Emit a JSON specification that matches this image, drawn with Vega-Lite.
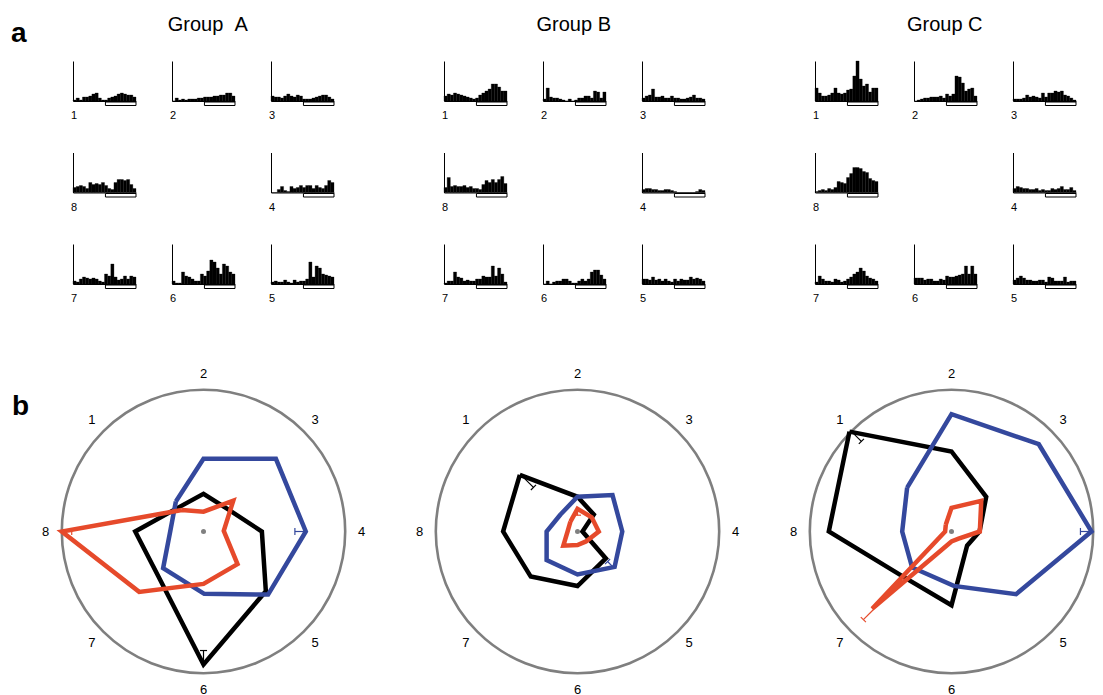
{
"$schema": "https://vega.github.io/schema/vega-lite/v6.json",
"padding": {"left": 11, "top": 14, "right": 0, "bottom": 0},
"spacing": 63,
"config": {"view": {"stroke": null}, "axis": {"grid": false}, "font": "Liberation Sans", "title": {"font": "Liberation Sans", "color": "#000"}, "text": {"font": "Liberation Sans"}},
"datasets": {
"grid": [{"p":1,"r":1,"c":1},{"p":2,"r":1,"c":2},{"p":3,"r":1,"c":3},{"p":8,"r":2,"c":1},{"p":4,"r":2,"c":3},{"p":7,"r":3,"c":1},{"p":6,"r":3,"c":2},{"p":5,"r":3,"c":3}],
"origin": [{"x":0,"y":0}],
"dirs": [{"d":1},{"d":2},{"d":3},{"d":4},{"d":5},{"d":6},{"d":7},{"d":8}],
"poly": [
{"panel":"L","s":"black","i":0,"x":-0.172,"y":0.172},{"panel":"L","s":"black","i":1,"x":0,"y":0.266},{"panel":"L","s":"black","i":2,"x":0.163,"y":0.163},{"panel":"L","s":"black","i":3,"x":0.412,"y":0},{"panel":"L","s":"black","i":4,"x":0.44,"y":-0.421},{"panel":"L","s":"black","i":5,"x":0,"y":-0.939},{"panel":"L","s":"black","i":6,"x":-0.318,"y":-0.318},{"panel":"L","s":"black","i":7,"x":-0.482,"y":0},{"panel":"L","s":"black","i":8,"x":-0.172,"y":0.172},
{"panel":"L","s":"blue","i":0,"x":-0.195,"y":0.212},{"panel":"L","s":"blue","i":1,"x":0,"y":0.513},{"panel":"L","s":"blue","i":2,"x":0.511,"y":0.513},{"panel":"L","s":"blue","i":3,"x":0.722,"y":0},{"panel":"L","s":"blue","i":4,"x":0.456,"y":-0.445},{"panel":"L","s":"blue","i":5,"x":0.005,"y":-0.44},{"panel":"L","s":"blue","i":6,"x":-0.285,"y":-0.259},{"panel":"L","s":"blue","i":7,"x":-0.235,"y":0},{"panel":"L","s":"blue","i":8,"x":-0.195,"y":0.212},
{"panel":"L","s":"red","i":0,"x":-0.152,"y":0.152},{"panel":"L","s":"red","i":1,"x":0,"y":0.14},{"panel":"L","s":"red","i":2,"x":0.21,"y":0.217},{"panel":"L","s":"red","i":3,"x":0.143,"y":0.005},{"panel":"L","s":"red","i":4,"x":0.24,"y":-0.23},{"panel":"L","s":"red","i":5,"x":0,"y":-0.37},{"panel":"L","s":"red","i":6,"x":-0.454,"y":-0.426},{"panel":"L","s":"red","i":7,"x":-1.0,"y":0},{"panel":"L","s":"red","i":8,"x":-0.152,"y":0.152},
{"panel":"M","s":"black","i":0,"x":-0.407,"y":0.4},{"panel":"M","s":"black","i":1,"x":0,"y":0.245},{"panel":"M","s":"black","i":2,"x":0.115,"y":0.12},{"panel":"M","s":"black","i":3,"x":0.035,"y":0},{"panel":"M","s":"black","i":4,"x":0.2,"y":-0.19},{"panel":"M","s":"black","i":5,"x":0,"y":-0.385},{"panel":"M","s":"black","i":6,"x":-0.33,"y":-0.318},{"panel":"M","s":"black","i":7,"x":-0.525,"y":0},{"panel":"M","s":"black","i":8,"x":-0.407,"y":0.4},
{"panel":"M","s":"blue","i":0,"x":-0.12,"y":0.12},{"panel":"M","s":"blue","i":1,"x":0,"y":0.245},{"panel":"M","s":"blue","i":2,"x":0.247,"y":0.257},{"panel":"M","s":"blue","i":3,"x":0.316,"y":0},{"panel":"M","s":"blue","i":4,"x":0.262,"y":-0.25},{"panel":"M","s":"blue","i":5,"x":0,"y":-0.303},{"panel":"M","s":"blue","i":6,"x":-0.218,"y":-0.202},{"panel":"M","s":"blue","i":7,"x":-0.218,"y":0},{"panel":"M","s":"blue","i":8,"x":-0.12,"y":0.12},
{"panel":"M","s":"red","i":0,"x":-0.05,"y":0.07},{"panel":"M","s":"red","i":1,"x":0,"y":0.16},{"panel":"M","s":"red","i":2,"x":0.1,"y":0.1},{"panel":"M","s":"red","i":3,"x":0.15,"y":0},{"panel":"M","s":"red","i":4,"x":0.06,"y":-0.07},{"panel":"M","s":"red","i":5,"x":0,"y":-0.095},{"panel":"M","s":"red","i":6,"x":-0.1,"y":-0.1},{"panel":"M","s":"red","i":7,"x":-0.07,"y":0},{"panel":"M","s":"red","i":8,"x":-0.05,"y":0.07},
{"panel":"R","s":"black","i":0,"x":-0.72,"y":0.705},{"panel":"R","s":"black","i":1,"x":0,"y":0.565},{"panel":"R","s":"black","i":2,"x":0.245,"y":0.245},{"panel":"R","s":"black","i":3,"x":0.198,"y":0},{"panel":"R","s":"black","i":4,"x":0.11,"y":-0.1},{"panel":"R","s":"black","i":5,"x":0,"y":-0.52},{"panel":"R","s":"black","i":6,"x":-0.327,"y":-0.327},{"panel":"R","s":"black","i":7,"x":-0.866,"y":0},{"panel":"R","s":"black","i":8,"x":-0.72,"y":0.705},
{"panel":"R","s":"blue","i":0,"x":-0.313,"y":0.31},{"panel":"R","s":"blue","i":1,"x":0,"y":0.828},{"panel":"R","s":"blue","i":2,"x":0.616,"y":0.616},{"panel":"R","s":"blue","i":3,"x":0.988,"y":0},{"panel":"R","s":"blue","i":4,"x":0.456,"y":-0.442},{"panel":"R","s":"blue","i":5,"x":0.016,"y":-0.384},{"panel":"R","s":"blue","i":6,"x":-0.278,"y":-0.254},{"panel":"R","s":"blue","i":7,"x":-0.348,"y":0},{"panel":"R","s":"blue","i":8,"x":-0.313,"y":0.31},
{"panel":"R","s":"red","i":0,"x":-0.04,"y":0.05},{"panel":"R","s":"red","i":1,"x":0,"y":0.167},{"panel":"R","s":"red","i":2,"x":0.21,"y":0.216},{"panel":"R","s":"red","i":3,"x":0.2,"y":0},{"panel":"R","s":"red","i":4,"x":0.05,"y":-0.05},{"panel":"R","s":"red","i":5,"x":0,"y":-0.07},{"panel":"R","s":"red","i":6,"x":-0.56,"y":-0.545},{"panel":"R","s":"red","i":7,"x":-0.045,"y":0},{"panel":"R","s":"red","i":8,"x":-0.04,"y":0.05}
],
"err": [
{"panel":"L","s":"black","x":0,"y":-0.84,"x2":0,"y2":-0.939},{"panel":"L","s":"black","x":-0.025,"y":-0.84,"x2":0.025,"y2":-0.84},
{"panel":"L","s":"blue","x":0.645,"y":0,"x2":0.722,"y2":0},{"panel":"L","s":"blue","x":0.645,"y":-0.025,"x2":0.645,"y2":0.025},
{"panel":"L","s":"red","x":-0.93,"y":0,"x2":-1.0,"y2":0},{"panel":"L","s":"red","x":-0.93,"y":-0.025,"x2":-0.93,"y2":0.025},
{"panel":"M","s":"black","x":-0.311,"y":0.311,"x2":-0.403,"y2":0.403},{"panel":"M","s":"black","x":-0.329,"y":0.293,"x2":-0.293,"y2":0.329},
{"panel":"M","s":"red","x":0,"y":0.115,"x2":0,"y2":0.16},{"panel":"M","s":"red","x":-0.025,"y":0.115,"x2":0.025,"y2":0.115},
{"panel":"M","s":"blue","x":0.212,"y":-0.212,"x2":0.255,"y2":-0.255},{"panel":"M","s":"blue","x":0.194,"y":-0.23,"x2":0.23,"y2":-0.194},
{"panel":"R","s":"black","x":-0.636,"y":0.636,"x2":-0.707,"y2":0.707},{"panel":"R","s":"black","x":-0.654,"y":0.618,"x2":-0.618,"y2":0.654},
{"panel":"R","s":"blue","x":0.91,"y":0,"x2":0.988,"y2":0},{"panel":"R","s":"blue","x":0.91,"y":-0.025,"x2":0.91,"y2":0.025},
{"panel":"R","s":"red","x":-0.552,"y":-0.552,"x2":-0.622,"y2":-0.622},{"panel":"R","s":"red","x":-0.64,"y":-0.604,"x2":-0.604,"y2":-0.64}
],
"hist": [
{"g":"A","p":1,"b":0,"v":1},{"g":"A","p":1,"b":1,"v":3},{"g":"A","p":1,"b":2,"v":1},{"g":"A","p":1,"b":3,"v":4},{"g":"A","p":1,"b":4,"v":4},{"g":"A","p":1,"b":5,"v":5},{"g":"A","p":1,"b":6,"v":7},{"g":"A","p":1,"b":7,"v":8},{"g":"A","p":1,"b":8,"v":3},{"g":"A","p":1,"b":9,"v":1},{"g":"A","p":1,"b":10,"v":1},{"g":"A","p":1,"b":11,"v":3},{"g":"A","p":1,"b":12,"v":4},{"g":"A","p":1,"b":13,"v":5},{"g":"A","p":1,"b":14,"v":7},{"g":"A","p":1,"b":15,"v":8},{"g":"A","p":1,"b":16,"v":7},{"g":"A","p":1,"b":17,"v":6},{"g":"A","p":1,"b":18,"v":6},{"g":"A","p":1,"b":19,"v":4},
{"g":"A","p":2,"b":0,"v":0},{"g":"A","p":2,"b":1,"v":3},{"g":"A","p":2,"b":2,"v":1},{"g":"A","p":2,"b":3,"v":2},{"g":"A","p":2,"b":4,"v":1},{"g":"A","p":2,"b":5,"v":2},{"g":"A","p":2,"b":6,"v":2},{"g":"A","p":2,"b":7,"v":2},{"g":"A","p":2,"b":8,"v":3},{"g":"A","p":2,"b":9,"v":3},{"g":"A","p":2,"b":10,"v":4},{"g":"A","p":2,"b":11,"v":4},{"g":"A","p":2,"b":12,"v":4},{"g":"A","p":2,"b":13,"v":5},{"g":"A","p":2,"b":14,"v":5},{"g":"A","p":2,"b":15,"v":6},{"g":"A","p":2,"b":16,"v":6},{"g":"A","p":2,"b":17,"v":8},{"g":"A","p":2,"b":18,"v":8},{"g":"A","p":2,"b":19,"v":5},
{"g":"A","p":3,"b":0,"v":5},{"g":"A","p":3,"b":1,"v":4},{"g":"A","p":3,"b":2,"v":4},{"g":"A","p":3,"b":3,"v":3},{"g":"A","p":3,"b":4,"v":5},{"g":"A","p":3,"b":5,"v":7},{"g":"A","p":3,"b":6,"v":5},{"g":"A","p":3,"b":7,"v":4},{"g":"A","p":3,"b":8,"v":6},{"g":"A","p":3,"b":9,"v":5},{"g":"A","p":3,"b":10,"v":2},{"g":"A","p":3,"b":11,"v":2},{"g":"A","p":3,"b":12,"v":2},{"g":"A","p":3,"b":13,"v":3},{"g":"A","p":3,"b":14,"v":4},{"g":"A","p":3,"b":15,"v":5},{"g":"A","p":3,"b":16,"v":6},{"g":"A","p":3,"b":17,"v":6},{"g":"A","p":3,"b":18,"v":4},{"g":"A","p":3,"b":19,"v":2},
{"g":"A","p":4,"b":0,"v":0},{"g":"A","p":4,"b":1,"v":0},{"g":"A","p":4,"b":2,"v":3},{"g":"A","p":4,"b":3,"v":6},{"g":"A","p":4,"b":4,"v":2},{"g":"A","p":4,"b":5,"v":1},{"g":"A","p":4,"b":6,"v":6},{"g":"A","p":4,"b":7,"v":4},{"g":"A","p":4,"b":8,"v":5},{"g":"A","p":4,"b":9,"v":7},{"g":"A","p":4,"b":10,"v":5},{"g":"A","p":4,"b":11,"v":7},{"g":"A","p":4,"b":12,"v":7},{"g":"A","p":4,"b":13,"v":4},{"g":"A","p":4,"b":14,"v":7},{"g":"A","p":4,"b":15,"v":5},{"g":"A","p":4,"b":16,"v":4},{"g":"A","p":4,"b":17,"v":7},{"g":"A","p":4,"b":18,"v":12},{"g":"A","p":4,"b":19,"v":10},
{"g":"A","p":5,"b":0,"v":2},{"g":"A","p":5,"b":1,"v":3},{"g":"A","p":5,"b":2,"v":2},{"g":"A","p":5,"b":3,"v":2},{"g":"A","p":5,"b":4,"v":4},{"g":"A","p":5,"b":5,"v":2},{"g":"A","p":5,"b":6,"v":1},{"g":"A","p":5,"b":7,"v":4},{"g":"A","p":5,"b":8,"v":2},{"g":"A","p":5,"b":9,"v":3},{"g":"A","p":5,"b":10,"v":3},{"g":"A","p":5,"b":11,"v":5},{"g":"A","p":5,"b":12,"v":22},{"g":"A","p":5,"b":13,"v":7},{"g":"A","p":5,"b":14,"v":18},{"g":"A","p":5,"b":15,"v":16},{"g":"A","p":5,"b":16,"v":10},{"g":"A","p":5,"b":17,"v":9},{"g":"A","p":5,"b":18,"v":8},{"g":"A","p":5,"b":19,"v":7},
{"g":"A","p":6,"b":0,"v":3},{"g":"A","p":6,"b":1,"v":1},{"g":"A","p":6,"b":2,"v":1},{"g":"A","p":6,"b":3,"v":12},{"g":"A","p":6,"b":4,"v":8},{"g":"A","p":6,"b":5,"v":7},{"g":"A","p":6,"b":6,"v":5},{"g":"A","p":6,"b":7,"v":3},{"g":"A","p":6,"b":8,"v":3},{"g":"A","p":6,"b":9,"v":10},{"g":"A","p":6,"b":10,"v":8},{"g":"A","p":6,"b":11,"v":13},{"g":"A","p":6,"b":12,"v":24},{"g":"A","p":6,"b":13,"v":22},{"g":"A","p":6,"b":14,"v":16},{"g":"A","p":6,"b":15,"v":10},{"g":"A","p":6,"b":16,"v":20},{"g":"A","p":6,"b":17,"v":18},{"g":"A","p":6,"b":18,"v":12},{"g":"A","p":6,"b":19,"v":10},
{"g":"A","p":7,"b":0,"v":3},{"g":"A","p":7,"b":1,"v":2},{"g":"A","p":7,"b":2,"v":5},{"g":"A","p":7,"b":3,"v":7},{"g":"A","p":7,"b":4,"v":6},{"g":"A","p":7,"b":5,"v":5},{"g":"A","p":7,"b":6,"v":6},{"g":"A","p":7,"b":7,"v":5},{"g":"A","p":7,"b":8,"v":3},{"g":"A","p":7,"b":9,"v":2},{"g":"A","p":7,"b":10,"v":10},{"g":"A","p":7,"b":11,"v":8},{"g":"A","p":7,"b":12,"v":20},{"g":"A","p":7,"b":13,"v":7},{"g":"A","p":7,"b":14,"v":4},{"g":"A","p":7,"b":15,"v":5},{"g":"A","p":7,"b":16,"v":8},{"g":"A","p":7,"b":17,"v":5},{"g":"A","p":7,"b":18,"v":8},{"g":"A","p":7,"b":19,"v":7},
{"g":"A","p":8,"b":0,"v":5},{"g":"A","p":8,"b":1,"v":6},{"g":"A","p":8,"b":2,"v":7},{"g":"A","p":8,"b":3,"v":6},{"g":"A","p":8,"b":4,"v":4},{"g":"A","p":8,"b":5,"v":10},{"g":"A","p":8,"b":6,"v":8},{"g":"A","p":8,"b":7,"v":9},{"g":"A","p":8,"b":8,"v":8},{"g":"A","p":8,"b":9,"v":10},{"g":"A","p":8,"b":10,"v":7},{"g":"A","p":8,"b":11,"v":4},{"g":"A","p":8,"b":12,"v":3},{"g":"A","p":8,"b":13,"v":10},{"g":"A","p":8,"b":14,"v":13},{"g":"A","p":8,"b":15,"v":13},{"g":"A","p":8,"b":16,"v":12},{"g":"A","p":8,"b":17,"v":13},{"g":"A","p":8,"b":18,"v":8},{"g":"A","p":8,"b":19,"v":4},
{"g":"B","p":1,"b":0,"v":5},{"g":"B","p":1,"b":1,"v":7},{"g":"B","p":1,"b":2,"v":6},{"g":"B","p":1,"b":3,"v":8},{"g":"B","p":1,"b":4,"v":7},{"g":"B","p":1,"b":5,"v":6},{"g":"B","p":1,"b":6,"v":5},{"g":"B","p":1,"b":7,"v":4},{"g":"B","p":1,"b":8,"v":3},{"g":"B","p":1,"b":9,"v":2},{"g":"B","p":1,"b":10,"v":3},{"g":"B","p":1,"b":11,"v":6},{"g":"B","p":1,"b":12,"v":8},{"g":"B","p":1,"b":13,"v":10},{"g":"B","p":1,"b":14,"v":12},{"g":"B","p":1,"b":15,"v":17},{"g":"B","p":1,"b":16,"v":17},{"g":"B","p":1,"b":17,"v":14},{"g":"B","p":1,"b":18,"v":10},{"g":"B","p":1,"b":19,"v":10},
{"g":"B","p":2,"b":0,"v":2},{"g":"B","p":2,"b":1,"v":13},{"g":"B","p":2,"b":2,"v":4},{"g":"B","p":2,"b":3,"v":3},{"g":"B","p":2,"b":4,"v":3},{"g":"B","p":2,"b":5,"v":2},{"g":"B","p":2,"b":6,"v":1},{"g":"B","p":2,"b":7,"v":0},{"g":"B","p":2,"b":8,"v":2},{"g":"B","p":2,"b":9,"v":0},{"g":"B","p":2,"b":10,"v":1},{"g":"B","p":2,"b":11,"v":3},{"g":"B","p":2,"b":12,"v":3},{"g":"B","p":2,"b":13,"v":5},{"g":"B","p":2,"b":14,"v":5},{"g":"B","p":2,"b":15,"v":3},{"g":"B","p":2,"b":16,"v":10},{"g":"B","p":2,"b":17,"v":9},{"g":"B","p":2,"b":18,"v":3},{"g":"B","p":2,"b":19,"v":9},
{"g":"B","p":3,"b":0,"v":3},{"g":"B","p":3,"b":1,"v":5},{"g":"B","p":3,"b":2,"v":6},{"g":"B","p":3,"b":3,"v":12},{"g":"B","p":3,"b":4,"v":4},{"g":"B","p":3,"b":5,"v":4},{"g":"B","p":3,"b":6,"v":5},{"g":"B","p":3,"b":7,"v":3},{"g":"B","p":3,"b":8,"v":3},{"g":"B","p":3,"b":9,"v":5},{"g":"B","p":3,"b":10,"v":3},{"g":"B","p":3,"b":11,"v":3},{"g":"B","p":3,"b":12,"v":2},{"g":"B","p":3,"b":13,"v":2},{"g":"B","p":3,"b":14,"v":3},{"g":"B","p":3,"b":15,"v":4},{"g":"B","p":3,"b":16,"v":6},{"g":"B","p":3,"b":17,"v":3},{"g":"B","p":3,"b":18,"v":3},{"g":"B","p":3,"b":19,"v":2},
{"g":"B","p":4,"b":0,"v":3},{"g":"B","p":4,"b":1,"v":4},{"g":"B","p":4,"b":2,"v":4},{"g":"B","p":4,"b":3,"v":3},{"g":"B","p":4,"b":4,"v":3},{"g":"B","p":4,"b":5,"v":2},{"g":"B","p":4,"b":6,"v":2},{"g":"B","p":4,"b":7,"v":3},{"g":"B","p":4,"b":8,"v":3},{"g":"B","p":4,"b":9,"v":2},{"g":"B","p":4,"b":10,"v":1},{"g":"B","p":4,"b":11,"v":0},{"g":"B","p":4,"b":12,"v":0},{"g":"B","p":4,"b":13,"v":0},{"g":"B","p":4,"b":14,"v":0},{"g":"B","p":4,"b":15,"v":0},{"g":"B","p":4,"b":16,"v":0},{"g":"B","p":4,"b":17,"v":1},{"g":"B","p":4,"b":18,"v":3},{"g":"B","p":4,"b":19,"v":2},
{"g":"B","p":5,"b":0,"v":5},{"g":"B","p":5,"b":1,"v":5},{"g":"B","p":5,"b":2,"v":4},{"g":"B","p":5,"b":3,"v":7},{"g":"B","p":5,"b":4,"v":4},{"g":"B","p":5,"b":5,"v":5},{"g":"B","p":5,"b":6,"v":3},{"g":"B","p":5,"b":7,"v":5},{"g":"B","p":5,"b":8,"v":3},{"g":"B","p":5,"b":9,"v":2},{"g":"B","p":5,"b":10,"v":5},{"g":"B","p":5,"b":11,"v":3},{"g":"B","p":5,"b":12,"v":5},{"g":"B","p":5,"b":13,"v":4},{"g":"B","p":5,"b":14,"v":4},{"g":"B","p":5,"b":15,"v":7},{"g":"B","p":5,"b":16,"v":5},{"g":"B","p":5,"b":17,"v":6},{"g":"B","p":5,"b":18,"v":5},{"g":"B","p":5,"b":19,"v":3},
{"g":"B","p":6,"b":0,"v":0},{"g":"B","p":6,"b":1,"v":3},{"g":"B","p":6,"b":2,"v":0},{"g":"B","p":6,"b":3,"v":2},{"g":"B","p":6,"b":4,"v":3},{"g":"B","p":6,"b":5,"v":3},{"g":"B","p":6,"b":6,"v":5},{"g":"B","p":6,"b":7,"v":5},{"g":"B","p":6,"b":8,"v":3},{"g":"B","p":6,"b":9,"v":1},{"g":"B","p":6,"b":10,"v":1},{"g":"B","p":6,"b":11,"v":3},{"g":"B","p":6,"b":12,"v":5},{"g":"B","p":6,"b":13,"v":3},{"g":"B","p":6,"b":14,"v":5},{"g":"B","p":6,"b":15,"v":12},{"g":"B","p":6,"b":16,"v":14},{"g":"B","p":6,"b":17,"v":14},{"g":"B","p":6,"b":18,"v":9},{"g":"B","p":6,"b":19,"v":5},
{"g":"B","p":7,"b":0,"v":1},{"g":"B","p":7,"b":1,"v":3},{"g":"B","p":7,"b":2,"v":3},{"g":"B","p":7,"b":3,"v":12},{"g":"B","p":7,"b":4,"v":7},{"g":"B","p":7,"b":5,"v":6},{"g":"B","p":7,"b":6,"v":3},{"g":"B","p":7,"b":7,"v":4},{"g":"B","p":7,"b":8,"v":3},{"g":"B","p":7,"b":9,"v":3},{"g":"B","p":7,"b":10,"v":5},{"g":"B","p":7,"b":11,"v":5},{"g":"B","p":7,"b":12,"v":8},{"g":"B","p":7,"b":13,"v":7},{"g":"B","p":7,"b":14,"v":7},{"g":"B","p":7,"b":15,"v":18},{"g":"B","p":7,"b":16,"v":8},{"g":"B","p":7,"b":17,"v":16},{"g":"B","p":7,"b":18,"v":10},{"g":"B","p":7,"b":19,"v":2},
{"g":"B","p":8,"b":0,"v":5},{"g":"B","p":8,"b":1,"v":15},{"g":"B","p":8,"b":2,"v":6},{"g":"B","p":8,"b":3,"v":7},{"g":"B","p":8,"b":4,"v":6},{"g":"B","p":8,"b":5,"v":6},{"g":"B","p":8,"b":6,"v":7},{"g":"B","p":8,"b":7,"v":5},{"g":"B","p":8,"b":8,"v":6},{"g":"B","p":8,"b":9,"v":4},{"g":"B","p":8,"b":10,"v":4},{"g":"B","p":8,"b":11,"v":3},{"g":"B","p":8,"b":12,"v":8},{"g":"B","p":8,"b":13,"v":12},{"g":"B","p":8,"b":14,"v":10},{"g":"B","p":8,"b":15,"v":13},{"g":"B","p":8,"b":16,"v":10},{"g":"B","p":8,"b":17,"v":13},{"g":"B","p":8,"b":18,"v":16},{"g":"B","p":8,"b":19,"v":9},
{"g":"C","p":1,"b":0,"v":13},{"g":"C","p":1,"b":1,"v":8},{"g":"C","p":1,"b":2,"v":5},{"g":"C","p":1,"b":3,"v":5},{"g":"C","p":1,"b":4,"v":6},{"g":"C","p":1,"b":5,"v":8},{"g":"C","p":1,"b":6,"v":13},{"g":"C","p":1,"b":7,"v":8},{"g":"C","p":1,"b":8,"v":7},{"g":"C","p":1,"b":9,"v":8},{"g":"C","p":1,"b":10,"v":11},{"g":"C","p":1,"b":11,"v":12},{"g":"C","p":1,"b":12,"v":25},{"g":"C","p":1,"b":13,"v":40},{"g":"C","p":1,"b":14,"v":22},{"g":"C","p":1,"b":15,"v":15},{"g":"C","p":1,"b":16,"v":17},{"g":"C","p":1,"b":17,"v":9},{"g":"C","p":1,"b":18,"v":13},{"g":"C","p":1,"b":19,"v":13},
{"g":"C","p":2,"b":0,"v":0},{"g":"C","p":2,"b":1,"v":1},{"g":"C","p":2,"b":2,"v":2},{"g":"C","p":2,"b":3,"v":3},{"g":"C","p":2,"b":4,"v":3},{"g":"C","p":2,"b":5,"v":4},{"g":"C","p":2,"b":6,"v":4},{"g":"C","p":2,"b":7,"v":4},{"g":"C","p":2,"b":8,"v":5},{"g":"C","p":2,"b":9,"v":3},{"g":"C","p":2,"b":10,"v":7},{"g":"C","p":2,"b":11,"v":5},{"g":"C","p":2,"b":12,"v":7},{"g":"C","p":2,"b":13,"v":25},{"g":"C","p":2,"b":14,"v":24},{"g":"C","p":2,"b":15,"v":18},{"g":"C","p":2,"b":16,"v":10},{"g":"C","p":2,"b":17,"v":12},{"g":"C","p":2,"b":18,"v":13},{"g":"C","p":2,"b":19,"v":5},
{"g":"C","p":3,"b":0,"v":2},{"g":"C","p":3,"b":1,"v":2},{"g":"C","p":3,"b":2,"v":2},{"g":"C","p":3,"b":3,"v":3},{"g":"C","p":3,"b":4,"v":6},{"g":"C","p":3,"b":5,"v":4},{"g":"C","p":3,"b":6,"v":5},{"g":"C","p":3,"b":7,"v":4},{"g":"C","p":3,"b":8,"v":3},{"g":"C","p":3,"b":9,"v":8},{"g":"C","p":3,"b":10,"v":4},{"g":"C","p":3,"b":11,"v":8},{"g":"C","p":3,"b":12,"v":8},{"g":"C","p":3,"b":13,"v":10},{"g":"C","p":3,"b":14,"v":9},{"g":"C","p":3,"b":15,"v":10},{"g":"C","p":3,"b":16,"v":6},{"g":"C","p":3,"b":17,"v":5},{"g":"C","p":3,"b":18,"v":3},{"g":"C","p":3,"b":19,"v":1},
{"g":"C","p":4,"b":0,"v":4},{"g":"C","p":4,"b":1,"v":6},{"g":"C","p":4,"b":2,"v":5},{"g":"C","p":4,"b":3,"v":4},{"g":"C","p":4,"b":4,"v":4},{"g":"C","p":4,"b":5,"v":3},{"g":"C","p":4,"b":6,"v":3},{"g":"C","p":4,"b":7,"v":4},{"g":"C","p":4,"b":8,"v":2},{"g":"C","p":4,"b":9,"v":3},{"g":"C","p":4,"b":10,"v":2},{"g":"C","p":4,"b":11,"v":2},{"g":"C","p":4,"b":12,"v":4},{"g":"C","p":4,"b":13,"v":3},{"g":"C","p":4,"b":14,"v":4},{"g":"C","p":4,"b":15,"v":6},{"g":"C","p":4,"b":16,"v":3},{"g":"C","p":4,"b":17,"v":3},{"g":"C","p":4,"b":18,"v":5},{"g":"C","p":4,"b":19,"v":2},
{"g":"C","p":5,"b":0,"v":4},{"g":"C","p":5,"b":1,"v":6},{"g":"C","p":5,"b":2,"v":8},{"g":"C","p":5,"b":3,"v":6},{"g":"C","p":5,"b":4,"v":4},{"g":"C","p":5,"b":5,"v":4},{"g":"C","p":5,"b":6,"v":3},{"g":"C","p":5,"b":7,"v":3},{"g":"C","p":5,"b":8,"v":4},{"g":"C","p":5,"b":9,"v":4},{"g":"C","p":5,"b":10,"v":2},{"g":"C","p":5,"b":11,"v":7},{"g":"C","p":5,"b":12,"v":6},{"g":"C","p":5,"b":13,"v":3},{"g":"C","p":5,"b":14,"v":3},{"g":"C","p":5,"b":15,"v":3},{"g":"C","p":5,"b":16,"v":7},{"g":"C","p":5,"b":17,"v":2},{"g":"C","p":5,"b":18,"v":3},{"g":"C","p":5,"b":19,"v":3},
{"g":"C","p":6,"b":0,"v":6},{"g":"C","p":6,"b":1,"v":6},{"g":"C","p":6,"b":2,"v":6},{"g":"C","p":6,"b":3,"v":4},{"g":"C","p":6,"b":4,"v":5},{"g":"C","p":6,"b":5,"v":5},{"g":"C","p":6,"b":6,"v":3},{"g":"C","p":6,"b":7,"v":3},{"g":"C","p":6,"b":8,"v":5},{"g":"C","p":6,"b":9,"v":4},{"g":"C","p":6,"b":10,"v":8},{"g":"C","p":6,"b":11,"v":7},{"g":"C","p":6,"b":12,"v":7},{"g":"C","p":6,"b":13,"v":8},{"g":"C","p":6,"b":14,"v":9},{"g":"C","p":6,"b":15,"v":10},{"g":"C","p":6,"b":16,"v":18},{"g":"C","p":6,"b":17,"v":10},{"g":"C","p":6,"b":18,"v":18},{"g":"C","p":6,"b":19,"v":10},
{"g":"C","p":7,"b":0,"v":2},{"g":"C","p":7,"b":1,"v":8},{"g":"C","p":7,"b":2,"v":5},{"g":"C","p":7,"b":3,"v":3},{"g":"C","p":7,"b":4,"v":3},{"g":"C","p":7,"b":5,"v":2},{"g":"C","p":7,"b":6,"v":5},{"g":"C","p":7,"b":7,"v":4},{"g":"C","p":7,"b":8,"v":2},{"g":"C","p":7,"b":9,"v":3},{"g":"C","p":7,"b":10,"v":5},{"g":"C","p":7,"b":11,"v":7},{"g":"C","p":7,"b":12,"v":10},{"g":"C","p":7,"b":13,"v":12},{"g":"C","p":7,"b":14,"v":16},{"g":"C","p":7,"b":15,"v":13},{"g":"C","p":7,"b":16,"v":8},{"g":"C","p":7,"b":17,"v":6},{"g":"C","p":7,"b":18,"v":5},{"g":"C","p":7,"b":19,"v":3},
{"g":"C","p":8,"b":0,"v":1},{"g":"C","p":8,"b":1,"v":2},{"g":"C","p":8,"b":2,"v":3},{"g":"C","p":8,"b":3,"v":2},{"g":"C","p":8,"b":4,"v":4},{"g":"C","p":8,"b":5,"v":3},{"g":"C","p":8,"b":6,"v":5},{"g":"C","p":8,"b":7,"v":11},{"g":"C","p":8,"b":8,"v":10},{"g":"C","p":8,"b":9,"v":9},{"g":"C","p":8,"b":10,"v":15},{"g":"C","p":8,"b":11,"v":19},{"g":"C","p":8,"b":12,"v":25},{"g":"C","p":8,"b":13,"v":25},{"g":"C","p":8,"b":14,"v":24},{"g":"C","p":8,"b":15,"v":21},{"g":"C","p":8,"b":16,"v":20},{"g":"C","p":8,"b":17,"v":14},{"g":"C","p":8,"b":18,"v":12},{"g":"C","p":8,"b":19,"v":11}
]
},
"vconcat": [
{
"title": {"text": "a", "anchor": "start", "fontSize": 28, "fontWeight": "bold", "dx": -60, "dy": 33, "offset": 0},
"spacing": 107,
"hconcat": [
{"data": {"name": "hist"}, "transform": [{"filter": "datum.g == 'A'"}, {"lookup": "p", "from": {"data": {"name": "grid"}, "key": "p", "fields": ["r", "c"]}}],
 "title": {"text": "Group\u00a0\u00a0A", "fontSize": 20, "fontWeight": "normal", "anchor": "middle", "offset": 26, "dx": 5},
 "facet": {"row": {"field": "r", "type": "ordinal", "header": null}, "column": {"field": "c", "type": "ordinal", "header": null}},
 "spacing": {"row": 31.5, "column": 33},
 "resolve": {"axis": {"x": "independent", "y": "independent"}},
 "spec": {"width": 63, "height": 40,
  "layer": [
   {"mark": {"type": "bar", "color": "#000", "stroke": "#000", "strokeWidth": 0.3}, "encoding": {"x": {"field": "b", "type": "ordinal", "scale": {"paddingInner": 0, "paddingOuter": 0}, "axis": {"labels": false, "ticks": false, "title": null, "domainColor": "#000", "domainWidth": 1}}, "y": {"field": "v", "type": "quantitative", "scale": {"domain": [0, 40], "nice": false}, "axis": {"labels": false, "ticks": false, "title": null, "domainColor": "#000", "domainWidth": 1}}}},
   {"transform": [{"filter": "datum.b == 0"}], "mark": {"type": "rect", "fill": "#fff", "stroke": "#000", "strokeWidth": 1}, "encoding": {"x": {"datum": 10.3, "type": "quantitative", "scale": {"domain": [0, 20]}, "axis": null}, "x2": {"datum": 20}, "y": {"datum": -1}, "y2": {"datum": -4.5}}},
   {"transform": [{"filter": "datum.b == 0"}], "mark": {"type": "text", "align": "left", "baseline": "middle", "dy": 15, "dx": -2, "fontSize": 11, "color": "#000"}, "encoding": {"x": {"datum": 0, "type": "quantitative", "scale": {"domain": [0, 20]}, "axis": null}, "y": {"datum": 0}, "text": {"field": "p"}}}
  ],
  "resolve": {"scale": {"x": "independent"}}
 }
},
{"data": {"name": "hist"}, "transform": [{"filter": "datum.g == 'B'"}, {"lookup": "p", "from": {"data": {"name": "grid"}, "key": "p", "fields": ["r", "c"]}}],
 "title": {"text": "Group B", "fontSize": 20, "fontWeight": "normal", "anchor": "middle", "offset": 26},
 "facet": {"row": {"field": "r", "type": "ordinal", "header": null}, "column": {"field": "c", "type": "ordinal", "header": null}},
 "spacing": {"row": 31.5, "column": 33},
 "resolve": {"axis": {"x": "independent", "y": "independent"}},
 "spec": {"width": 63, "height": 40,
  "layer": [
   {"mark": {"type": "bar", "color": "#000", "stroke": "#000", "strokeWidth": 0.3}, "encoding": {"x": {"field": "b", "type": "ordinal", "scale": {"paddingInner": 0, "paddingOuter": 0}, "axis": {"labels": false, "ticks": false, "title": null, "domainColor": "#000", "domainWidth": 1}}, "y": {"field": "v", "type": "quantitative", "scale": {"domain": [0, 40], "nice": false}, "axis": {"labels": false, "ticks": false, "title": null, "domainColor": "#000", "domainWidth": 1}}}},
   {"transform": [{"filter": "datum.b == 0"}], "mark": {"type": "rect", "fill": "#fff", "stroke": "#000", "strokeWidth": 1}, "encoding": {"x": {"datum": 10.3, "type": "quantitative", "scale": {"domain": [0, 20]}, "axis": null}, "x2": {"datum": 20}, "y": {"datum": -1}, "y2": {"datum": -4.5}}},
   {"transform": [{"filter": "datum.b == 0"}], "mark": {"type": "text", "align": "left", "baseline": "middle", "dy": 15, "dx": -2, "fontSize": 11, "color": "#000"}, "encoding": {"x": {"datum": 0, "type": "quantitative", "scale": {"domain": [0, 20]}, "axis": null}, "y": {"datum": 0}, "text": {"field": "p"}}}
  ],
  "resolve": {"scale": {"x": "independent"}}
 }
},
{"data": {"name": "hist"}, "transform": [{"filter": "datum.g == 'C'"}, {"lookup": "p", "from": {"data": {"name": "grid"}, "key": "p", "fields": ["r", "c"]}}],
 "title": {"text": "Group C", "fontSize": 20, "fontWeight": "normal", "anchor": "middle", "offset": 26},
 "facet": {"row": {"field": "r", "type": "ordinal", "header": null}, "column": {"field": "c", "type": "ordinal", "header": null}},
 "spacing": {"row": 31.5, "column": 33},
 "resolve": {"axis": {"x": "independent", "y": "independent"}},
 "spec": {"width": 63, "height": 40,
  "layer": [
   {"mark": {"type": "bar", "color": "#000", "stroke": "#000", "strokeWidth": 0.3}, "encoding": {"x": {"field": "b", "type": "ordinal", "scale": {"paddingInner": 0, "paddingOuter": 0}, "axis": {"labels": false, "ticks": false, "title": null, "domainColor": "#000", "domainWidth": 1}}, "y": {"field": "v", "type": "quantitative", "scale": {"domain": [0, 40], "nice": false}, "axis": {"labels": false, "ticks": false, "title": null, "domainColor": "#000", "domainWidth": 1}}}},
   {"transform": [{"filter": "datum.b == 0"}], "mark": {"type": "rect", "fill": "#fff", "stroke": "#000", "strokeWidth": 1}, "encoding": {"x": {"datum": 10.3, "type": "quantitative", "scale": {"domain": [0, 20]}, "axis": null}, "x2": {"datum": 20}, "y": {"datum": -1}, "y2": {"datum": -4.5}}},
   {"transform": [{"filter": "datum.b == 0"}], "mark": {"type": "text", "align": "left", "baseline": "middle", "dy": 15, "dx": -2, "fontSize": 11, "color": "#000"}, "encoding": {"x": {"datum": 0, "type": "quantitative", "scale": {"domain": [0, 20]}, "axis": null}, "y": {"datum": 0}, "text": {"field": "p"}}}
  ],
  "resolve": {"scale": {"x": "independent"}}
 }
}
]
},
{
"title": {"text": "b", "anchor": "start", "fontSize": 28, "fontWeight": "bold", "dx": -30, "dy": 53, "offset": 0},
"spacing": 49,
"hconcat": [
{"width": 261, "height": 261, "layer": [
 {"data": {"name": "origin"}, "mark": {"type": "point", "shape": "circle", "size": 80316, "filled": false, "stroke": "#7f7f7f", "strokeWidth": 2.6, "opacity": 1}, "encoding": {"x": {"field": "x", "type": "quantitative", "scale": {"domain": [-0.921, 0.921], "nice": false, "zero": false}, "axis": null}, "y": {"field": "y", "type": "quantitative", "scale": {"domain": [-0.921, 0.921], "nice": false, "zero": false}, "axis": null}}},
 {"data": {"name": "poly"}, "transform": [{"filter": "datum.panel == 'L'"}], "mark": {"type": "line", "strokeWidth": 4.5, "strokeJoin": "miter"}, "encoding": {"x": {"field": "x", "type": "quantitative"}, "y": {"field": "y", "type": "quantitative"}, "order": {"field": "i", "type": "quantitative"}, "color": {"field": "s", "type": "nominal", "scale": {"domain": ["black", "blue", "red"], "range": ["#000000", "#34489d", "#e64a2b"]}, "legend": null}}},
 {"data": {"name": "err"}, "transform": [{"filter": "datum.panel == 'L'"}], "mark": {"type": "rule", "strokeWidth": 1.2}, "encoding": {"x": {"field": "x", "type": "quantitative"}, "y": {"field": "y", "type": "quantitative"}, "x2": {"field": "x2"}, "y2": {"field": "y2"}, "color": {"field": "s", "type": "nominal", "legend": null}}},
 {"data": {"name": "origin"}, "mark": {"type": "point", "shape": "circle", "filled": true, "size": 25, "color": "#808080", "opacity": 1}, "encoding": {"x": {"field": "x", "type": "quantitative"}, "y": {"field": "y", "type": "quantitative"}}},
 {"data": {"name": "dirs"}, "mark": {"type": "text", "radius": 158, "fontSize": 13, "align": "center", "baseline": "middle", "color": "#000"}, "encoding": {"theta": {"field": "d", "type": "quantitative", "scale": {"domain": [2, 10], "range": [0, 6.283185307]}, "stack": null}, "text": {"field": "d", "type": "quantitative"}}}
]},
{"width": 261, "height": 261, "layer": [
 {"data": {"name": "origin"}, "mark": {"type": "point", "shape": "circle", "size": 80316, "filled": false, "stroke": "#7f7f7f", "strokeWidth": 2.6, "opacity": 1}, "encoding": {"x": {"field": "x", "type": "quantitative", "scale": {"domain": [-0.921, 0.921], "nice": false, "zero": false}, "axis": null}, "y": {"field": "y", "type": "quantitative", "scale": {"domain": [-0.921, 0.921], "nice": false, "zero": false}, "axis": null}}},
 {"data": {"name": "poly"}, "transform": [{"filter": "datum.panel == 'M'"}], "mark": {"type": "line", "strokeWidth": 4.5, "strokeJoin": "miter"}, "encoding": {"x": {"field": "x", "type": "quantitative"}, "y": {"field": "y", "type": "quantitative"}, "order": {"field": "i", "type": "quantitative"}, "color": {"field": "s", "type": "nominal", "scale": {"domain": ["black", "blue", "red"], "range": ["#000000", "#34489d", "#e64a2b"]}, "legend": null}}},
 {"data": {"name": "err"}, "transform": [{"filter": "datum.panel == 'M'"}], "mark": {"type": "rule", "strokeWidth": 1.2}, "encoding": {"x": {"field": "x", "type": "quantitative"}, "y": {"field": "y", "type": "quantitative"}, "x2": {"field": "x2"}, "y2": {"field": "y2"}, "color": {"field": "s", "type": "nominal", "legend": null}}},
 {"data": {"name": "origin"}, "mark": {"type": "point", "shape": "circle", "filled": true, "size": 25, "color": "#808080", "opacity": 1}, "encoding": {"x": {"field": "x", "type": "quantitative"}, "y": {"field": "y", "type": "quantitative"}}},
 {"data": {"name": "dirs"}, "mark": {"type": "text", "radius": 158, "fontSize": 13, "align": "center", "baseline": "middle", "color": "#000"}, "encoding": {"theta": {"field": "d", "type": "quantitative", "scale": {"domain": [2, 10], "range": [0, 6.283185307]}, "stack": null}, "text": {"field": "d", "type": "quantitative"}}}
]},
{"width": 261, "height": 261, "layer": [
 {"data": {"name": "origin"}, "mark": {"type": "point", "shape": "circle", "size": 80316, "filled": false, "stroke": "#7f7f7f", "strokeWidth": 2.6, "opacity": 1}, "encoding": {"x": {"field": "x", "type": "quantitative", "scale": {"domain": [-0.921, 0.921], "nice": false, "zero": false}, "axis": null}, "y": {"field": "y", "type": "quantitative", "scale": {"domain": [-0.921, 0.921], "nice": false, "zero": false}, "axis": null}}},
 {"data": {"name": "poly"}, "transform": [{"filter": "datum.panel == 'R'"}], "mark": {"type": "line", "strokeWidth": 4.5, "strokeJoin": "miter"}, "encoding": {"x": {"field": "x", "type": "quantitative"}, "y": {"field": "y", "type": "quantitative"}, "order": {"field": "i", "type": "quantitative"}, "color": {"field": "s", "type": "nominal", "scale": {"domain": ["black", "blue", "red"], "range": ["#000000", "#34489d", "#e64a2b"]}, "legend": null}}},
 {"data": {"name": "err"}, "transform": [{"filter": "datum.panel == 'R'"}], "mark": {"type": "rule", "strokeWidth": 1.2}, "encoding": {"x": {"field": "x", "type": "quantitative"}, "y": {"field": "y", "type": "quantitative"}, "x2": {"field": "x2"}, "y2": {"field": "y2"}, "color": {"field": "s", "type": "nominal", "legend": null}}},
 {"data": {"name": "origin"}, "mark": {"type": "point", "shape": "circle", "filled": true, "size": 25, "color": "#808080", "opacity": 1}, "encoding": {"x": {"field": "x", "type": "quantitative"}, "y": {"field": "y", "type": "quantitative"}}},
 {"data": {"name": "dirs"}, "transform": [{"filter": "datum.d != 4"}], "mark": {"type": "text", "radius": 158, "fontSize": 13, "align": "center", "baseline": "middle", "color": "#000"}, "encoding": {"theta": {"field": "d", "type": "quantitative", "scale": {"domain": [2, 10], "range": [0, 6.283185307]}, "stack": null}, "text": {"field": "d", "type": "quantitative"}}}
]}
]
}
]
}
